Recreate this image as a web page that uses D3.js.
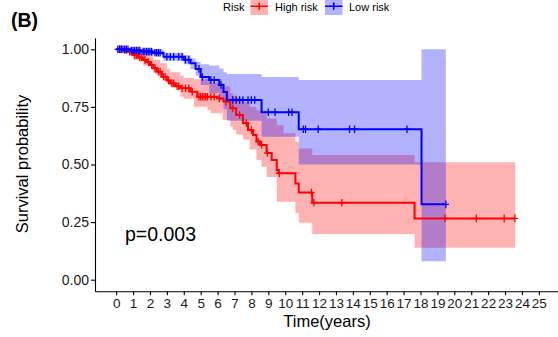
<!DOCTYPE html>
<html>
<head>
<meta charset="utf-8">
<script src="https://cdn.jsdelivr.net/npm/d3@7"></script>
<style>
  body { margin: 0; background: #fff; }
  svg { display: block; font-family: "Liberation Sans", Arial, sans-serif; }
</style>
</head>
<body>
<div id="chart"></div>
<script>
// KM curves (time in years, survival probability)
const highT = [0, 0.4, 0.7, 1.0, 1.3, 1.6, 1.8, 2.0, 2.2, 2.4, 2.7, 3.0, 3.2, 3.5, 3.8, 4.4, 4.8, 6.0, 6.35, 6.75, 7.1, 7.5, 7.8, 8.1, 8.3, 8.5, 8.9, 9.2, 9.5, 9.6, 10.6, 10.8, 11.6, 17.65];
const highS = [1.0, 0.997, 0.99, 0.975, 0.965, 0.954, 0.945, 0.932, 0.918, 0.903, 0.881, 0.865, 0.852, 0.84, 0.831, 0.816, 0.794, 0.787, 0.773, 0.744, 0.715, 0.68, 0.65, 0.628, 0.6, 0.585, 0.55, 0.52, 0.476, 0.462, 0.418, 0.378, 0.334, 0.266];
const highEnd = 23.6;

const lowT = [0, 0.8, 1.5, 2.2, 2.8, 4.0, 4.4, 4.7, 5.0, 5.5, 6.1, 6.35, 6.55, 8.6, 10.8, 18.06];
const lowS = [1.0, 0.995, 0.99, 0.985, 0.968, 0.955, 0.94, 0.915, 0.88, 0.867, 0.845, 0.815, 0.78, 0.727, 0.653, 0.327];
const lowEnd = 19.5;

// confidence bands
const highBandT = [0, 0.4, 1.0, 1.6, 2.2, 2.6, 3.0, 3.2, 3.8, 4.0, 4.6, 5.4, 5.6, 6.3, 6.75, 6.9, 7.1, 7.5, 7.9, 8.3, 8.6, 8.9, 9.5, 9.9, 10.6, 10.8, 11.6, 17.65];
const highUpper = [1.0, 1.0, 0.99, 0.975, 0.955, 0.94, 0.915, 0.9, 0.885, 0.875, 0.87, 0.86, 0.855, 0.84, 0.81, 0.8, 0.79, 0.77, 0.75, 0.735, 0.722, 0.7, 0.67, 0.636, 0.6, 0.57, 0.541, 0.51];
const highLower = [1.0, 0.99, 0.955, 0.93, 0.896, 0.875, 0.852, 0.84, 0.794, 0.785, 0.751, 0.735, 0.722, 0.693, 0.665, 0.65, 0.63, 0.608, 0.565, 0.52, 0.49, 0.446, 0.338, 0.338, 0.29, 0.247, 0.198, 0.139];

const lowBandT = [0, 0.8, 2.8, 4.0, 4.4, 4.7, 5.0, 5.5, 6.1, 6.35, 6.55, 8.6, 10.8, 18.06];
const lowUpper = [1.0, 1.0, 0.985, 0.975, 0.96, 0.946, 0.935, 0.93, 0.917, 0.9, 0.893, 0.88, 0.867, 1.0];
const lowLower = [1.0, 0.975, 0.95, 0.935, 0.915, 0.885, 0.845, 0.81, 0.78, 0.74, 0.69, 0.62, 0.50, 0.08];

// censoring times
const highCensor = [0.2, 0.3, 0.5, 0.6, 0.8, 0.9, 1.1, 1.2, 1.4, 1.5, 1.7, 1.9, 2.1, 2.3, 2.5, 2.6, 2.8, 2.9, 3.1, 3.3, 3.4, 3.6, 3.7, 3.9, 4.1, 4.3, 4.5, 4.9, 5.0, 5.1, 5.2, 5.3, 5.4, 5.6, 5.8, 6.1, 6.5, 6.9, 7.3, 7.7, 8.0, 8.4, 8.6, 8.95, 9.65, 11.55, 11.7, 13.35, 19.45, 21.3, 22.95, 23.58];
const lowCensor = [0.1, 0.2, 0.3, 0.4, 0.5, 0.6, 0.7, 0.9, 1.0, 1.1, 1.2, 1.3, 1.4, 1.6, 1.7, 1.8, 1.9, 2.0, 2.1, 2.3, 2.4, 2.5, 2.6, 3.0, 3.2, 3.4, 3.7, 3.9, 4.1, 4.3, 4.9, 5.1, 5.6, 5.8, 6.2, 6.9, 7.1, 7.3, 7.5, 7.8, 8.0, 8.2, 9.0, 9.4, 10.2, 10.4, 11.07, 11.2, 11.95, 13.8, 14.1, 17.2, 19.5];

const xTicks = [0, 1, 2, 3, 4, 5, 6, 7, 8, 9, 10, 11, 12, 13, 14, 15, 16, 17, 18, 19, 20, 21, 22, 23, 24, 25];
const yTicks = [0, 0.25, 0.5, 0.75, 1.0];
const groups = ["High risk", "Low risk"];
const colors = ["#FF0000", "#0000FF"];
const pText = "p=0.003";

const width = 558, height = 337;
const svg = d3.select("#chart").append("svg")
    .attr("width", width).attr("height", height)
    .style("overflow", "hidden");

const x = d3.scaleLinear().domain([-1.25, 26.25]).range([95, 560]);
const y = d3.scaleLinear().domain([-0.05, 1.05]).range([291.2, 37.8]);

function survAt(ts, ss, t) {
    let s = ss[0];
    for (let i = 0; i < ts.length; i++) if (ts[i] <= t) s = ss[i];
    return s;
}

const series = [
    { t: highT, s: highS, end: highEnd, bt: highBandT, up: highUpper, lo: highLower, cens: highCensor },
    { t: lowT, s: lowS, end: lowEnd, bt: lowBandT, up: lowUpper, lo: lowLower, cens: lowCensor }
];

const area = d3.area().curve(d3.curveStepAfter)
    .x(d => x(d[0])).y0(d => y(d[1])).y1(d => y(d[2]));
const line = d3.line().curve(d3.curveStepAfter)
    .x(d => x(d[0])).y(d => y(d[1]));

// bands
series.forEach((g, i) => {
    const pts = g.bt.map((t, j) => [t, g.lo[j], g.up[j]]);
    pts.push([g.end, g.lo[g.lo.length - 1], g.up[g.up.length - 1]]);
    svg.append("path").attr("d", area(pts))
        .attr("fill", colors[i]).attr("fill-opacity", 0.3);
});

// curves
series.forEach((g, i) => {
    const pts = g.t.map((t, j) => [t, g.s[j]]);
    pts.push([g.end, g.s[g.s.length - 1]]);
    svg.append("path").attr("d", line(pts))
        .attr("fill", "none").attr("stroke", colors[i]).attr("stroke-width", 2);
    // censor marks
    svg.append("g").selectAll("path")
        .data(g.cens)
        .enter().append("path")
        .attr("d", t => {
            const cx = x(t), cy = y(survAt(g.t, g.s, t));
            return `M${cx - 3.2},${cy}H${cx + 3.2}M${cx},${cy - 3.8}V${cy + 3.8}`;
        })
        .attr("stroke", colors[i]).attr("stroke-width", 1.3).attr("fill", "none");
});

// axes
const xAxis = svg.append("g").attr("transform", `translate(0,${y.range()[0]})`)
    .call(d3.axisBottom(x).tickValues(xTicks).tickSize(4).tickSizeOuter(0).tickPadding(3));
const yAxis = svg.append("g").attr("transform", `translate(${x.range()[0]},0)`)
    .call(d3.axisLeft(y).tickValues(yTicks).tickFormat(d3.format(".2f")).tickSize(4).tickSizeOuter(0).tickPadding(2));
[xAxis, yAxis].forEach(a => {
    a.select(".domain").attr("stroke", "#000").attr("stroke-width", 1.1);
    a.selectAll(".tick line").attr("stroke", "#000").attr("stroke-width", 1.1);
    a.selectAll(".tick text").attr("fill", "#1a1a1a")
        .style("font-size", "14px").style("font-family", "Liberation Sans, Arial, sans-serif");
});
xAxis.selectAll(".tick text").style("font-size", "13.5px");

// axis titles
svg.append("text").attr("x", 327).attr("y", 327).attr("text-anchor", "middle")
    .style("font-size", "16.5px").attr("fill", "#000").text("Time(years)");
svg.append("text").attr("transform", "translate(28,164) rotate(-90)").attr("text-anchor", "middle")
    .style("font-size", "16.5px").attr("fill", "#000").text("Survival probability");

// p value
svg.append("text").attr("x", 125).attr("y", 240.5)
    .style("font-size", "19.5px").attr("fill", "#000").text(pText);

// panel tag
svg.append("text").attr("x", 11).attr("y", 27)
    .style("font-size", "19.5px").style("font-weight", "bold").attr("fill", "#000").text("(B)");

// legend
const leg = svg.append("g");
leg.append("text").attr("x", 223).attr("y", 10.5).style("font-size", "11px").text("Risk");
const keyX = [250.5, 325], labX = [275, 349];
groups.forEach((name, i) => {
    const k = leg.append("g").attr("transform", `translate(${keyX[i]},0)`);
    k.append("rect").attr("x", 0).attr("y", -2.5).attr("width", 17.5).attr("height", 17.5)
        .attr("fill", colors[i]).attr("fill-opacity", 0.3);
    k.append("path").attr("d", "M0,6.2H17.5M8.75,2.6V9.8")
        .attr("stroke", colors[i]).attr("stroke-width", 1.6).attr("fill", "none");
    leg.append("text").attr("x", labX[i]).attr("y", 10.5).style("font-size", "11px").text(name);
});
</script>
</body>
</html>
